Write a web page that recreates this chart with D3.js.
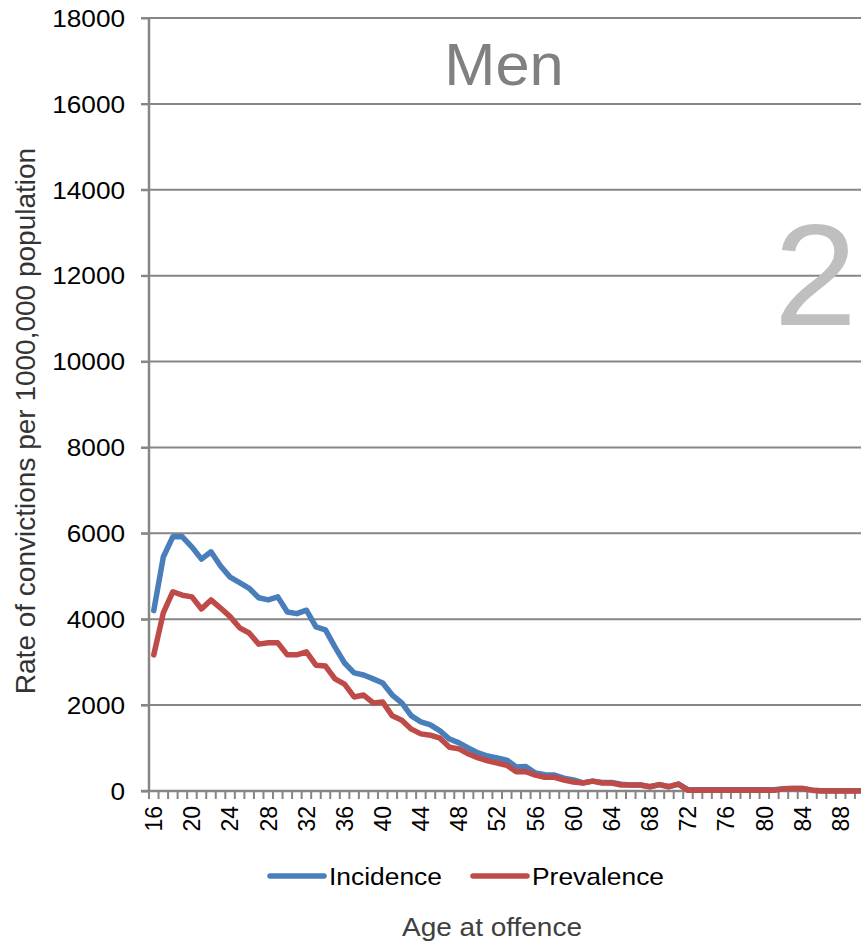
<!DOCTYPE html>
<html>
<head>
<meta charset="utf-8">
<script src="https://cdn.jsdelivr.net/npm/d3@7"></script>
<style>
  body { margin: 0; background: #fff; }
  text { font-family: "Liberation Sans", Arial, sans-serif; }
</style>
</head>
<body>
<svg id="chart" width="861" height="944"></svg>
<script>
// ages 16..90
const ages = d3.range(16, 91)

const incidence = [
  4200, 5450, 5920, 5920, 5680, 5400, 5570, 5240, 4980, 4850,
  4720, 4500, 4450, 4520, 4170, 4130, 4210, 3820, 3750, 3350,
  2980, 2750, 2700, 2610, 2515, 2235, 2050, 1750, 1610, 1540,
  1400, 1210, 1120, 1000, 885, 815, 770, 720, 560, 570,
  420, 380, 370, 300, 260, 190, 230, 200, 200, 160,
  140, 140, 100, 150, 100, 160, 30, 30, 30, 30,
  30, 30, 30, 30, 30, 30, 50, 60, 60, 20,
  5, 5, 5, 5, 5
]

const prevalence = [
  3170, 4150, 4640, 4560, 4520, 4240, 4450, 4260, 4060, 3800,
  3680, 3420, 3450, 3450, 3170, 3170, 3240, 2930, 2910, 2610,
  2490, 2190, 2235, 2050, 2070, 1750, 1650, 1440, 1330, 1300,
  1230, 1020, 980, 860, 770, 700, 650, 600, 450, 450,
  370, 320, 320, 255, 210, 185, 230, 185, 185, 140,
  140, 140, 100, 150, 100, 160, 15, 15, 15, 15,
  15, 15, 15, 15, 15, 15, 50, 60, 60, 20,
  0, 0, 0, 0, 0
]

const yTicks = d3.range(0, 18001, 2000)
const xLabels = ages.filter(a => (a - 16) % 4 === 0)

const series = [
  { name: 'Incidence', values: incidence, color: '#4a7ebb' },
  { name: 'Prevalence', values: prevalence, color: '#be4b48' }
]

const svg = d3.select('#chart')
const plotLeft = 149, plotRight = 864.5, plotTop = 18, plotBottom = 791

const x = d3.scaleBand().domain(ages).range([plotLeft, plotRight])
const y = d3.scaleLinear().domain([0, 18000]).range([plotBottom, plotTop])

// gridlines
svg.append('g')
  .selectAll('line')
  .data(yTicks.filter(d => d > 0))
  .enter().append('line')
  .attr('x1', plotLeft - 8).attr('x2', plotRight)
  .attr('y1', d => y(d)).attr('y2', d => y(d))
  .style('stroke', '#868686').style('stroke-width', 2)

// y axis (labels a bit wide, like the original)
const yAxis = svg.append('g')
  .attr('transform', `translate(${plotLeft},0)`)
  .call(d3.axisLeft(y).tickValues(yTicks).tickSize(8).tickPadding(13).tickFormat(d3.format('d')))
yAxis.select('.domain').remove()
yAxis.selectAll('line').style('stroke', '#868686').style('stroke-width', 2)
yAxis.selectAll('text')
  .style('font-size', '23px').style('fill', '#000')
  .attr('dy', '0.36em')
  .attr('transform', 'scale(1.14,1)')

svg.append('line')
  .attr('x1', plotLeft).attr('x2', plotLeft).attr('y1', plotTop).attr('y2', plotBottom)
  .style('stroke', '#868686').style('stroke-width', 2.5)

// x axis: ticks at category boundaries
svg.append('g')
  .selectAll('line')
  .data(ages.concat([91]))
  .enter().append('line')
  .attr('x1', (d, i) => plotLeft + i * x.step()).attr('x2', (d, i) => plotLeft + i * x.step())
  .attr('y1', plotBottom).attr('y2', plotBottom + 8)
  .style('stroke', '#868686').style('stroke-width', 2)

svg.append('line')
  .attr('x1', plotLeft - 8).attr('x2', plotRight).attr('y1', plotBottom).attr('y2', plotBottom)
  .style('stroke', '#868686').style('stroke-width', 2.5)

svg.append('g')
  .selectAll('text')
  .data(xLabels)
  .enter().append('text')
  .attr('transform', d => `translate(${x(d) + x.bandwidth() / 2},806) rotate(-90)`)
  .attr('text-anchor', 'end')
  .attr('dy', '0.36em')
  .style('font-size', '23px')
  .text(d => d)

// series lines
const line = d3.line()
  .x((d, i) => x(ages[i]) + x.bandwidth() / 2)
  .y(d => y(d))

svg.append('g')
  .selectAll('path')
  .data(series)
  .enter().append('path')
  .attr('d', d => line(d.values))
  .style('fill', 'none')
  .style('stroke', d => d.color)
  .style('stroke-width', 5.5)
  .style('stroke-linejoin', 'round')
  .style('stroke-linecap', 'round')

// titles
svg.append('text')
  .attr('transform', 'translate(504,85) scale(1.04,1)')
  .attr('text-anchor', 'middle')
  .style('font-size', '59px').style('fill', '#808080')
  .text('Men')

svg.append('text')
  .attr('transform', 'translate(857,325) scale(1.04,1)')
  .attr('text-anchor', 'end')
  .style('font-size', '144px').style('fill', '#bfbfbf')
  .text('2')

svg.append('text')
  .attr('transform', 'translate(35,421) rotate(-90)')
  .attr('text-anchor', 'middle')
  .style('font-size', '28px').style('fill', '#333')
  .text('Rate of convictions per 1000,000 population')

svg.append('text')
  .attr('transform', 'translate(492,936) scale(1.12,1)')
  .attr('text-anchor', 'middle')
  .style('font-size', '25px').style('fill', '#404040')
  .text('Age at offence')

// legend
const legend = svg.append('g')
const legendX = [270, 473]
series.forEach((s, i) => {
  legend.append('line')
    .attr('x1', legendX[i]).attr('x2', legendX[i] + 54)
    .attr('y1', 876).attr('y2', 876)
    .style('stroke', s.color).style('stroke-width', 5.5).style('stroke-linecap', 'round')
  legend.append('text')
    .attr('transform', `translate(${legendX[i] + 59},885) scale(1.1,1)`)
    .style('font-size', '24px').style('fill', '#000')
    .text(s.name)
})
</script>
</body>
</html>
